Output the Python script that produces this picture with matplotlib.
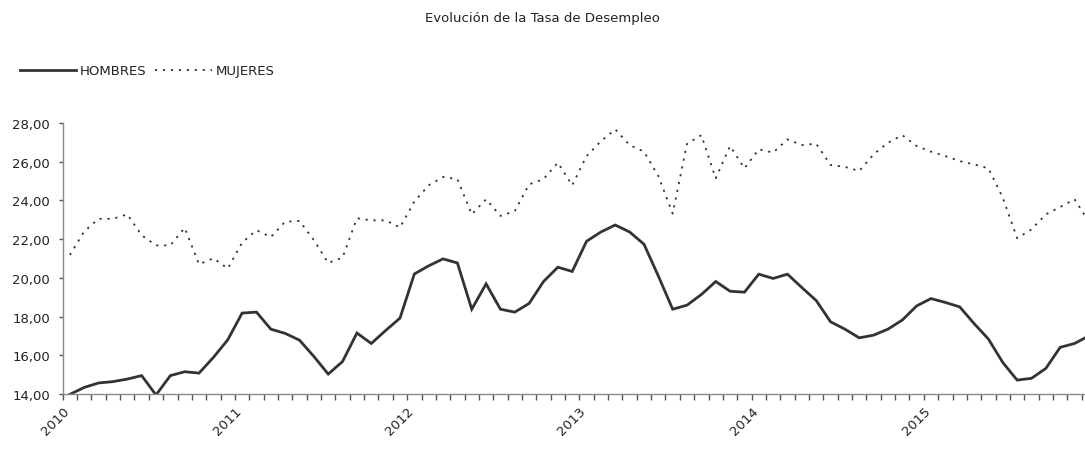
import matplotlib
matplotlib.use('Agg')
import matplotlib.pyplot as plt
from matplotlib.ticker import FuncFormatter
import numpy as np

plt.rcParams['font.family'] = ['DejaVu Sans']

# Datos mensuales 2010-2015 (%)
years = ['2010', '2011', '2012', '2013', '2014', '2015']

hombres = [13.98, 14.34, 14.57, 14.64, 14.77, 14.95, 13.95, 14.95, 15.15, 15.08, 15.89, 16.80,
           18.18, 18.23, 17.35, 17.13, 16.78, 15.94, 15.03, 15.68, 17.15, 16.61, 17.28, 17.92,
           20.20, 20.62, 20.98, 20.77, 18.38, 19.69, 18.38, 18.23, 18.68, 19.81, 20.55, 20.33,
           21.89, 22.37, 22.73, 22.37, 21.74, 20.10, 18.38, 18.59, 19.14, 19.81, 19.31, 19.26,
           20.19, 19.97, 20.19, 19.50, 18.83, 17.73, 17.35, 16.90, 17.04, 17.35, 17.82, 18.55,
           18.93, 18.73, 18.50, 17.64, 16.84, 15.63, 14.72, 14.81, 15.32, 16.41, 16.61, 17.00]

mujeres = [21.18, 22.40, 23.05, 23.05, 23.28, 22.20, 21.68, 21.68, 22.58, 20.70, 21.01, 20.48,
           21.82, 22.46, 22.11, 22.90, 22.94, 21.95, 20.77, 21.05, 23.08, 22.97, 22.97, 22.60,
           23.94, 24.78, 25.21, 25.10, 23.28, 24.06, 23.20, 23.45, 24.83, 25.10, 25.95, 24.78,
           26.29, 27.06, 27.67, 26.86, 26.52, 25.26, 23.32, 26.93, 27.37, 25.14, 26.81, 25.66,
           26.64, 26.47, 27.15, 26.86, 26.93, 25.83, 25.73, 25.52, 26.38, 26.98, 27.37, 26.81,
           26.52, 26.29, 26.03, 25.86, 25.66, 24.14, 22.05, 22.50, 23.28, 23.66, 24.06, 22.90]

fig = plt.figure(figsize=(10.85, 4.52), dpi=100)
ax = fig.add_axes([0.0578, 0.1261, 0.9422, 0.5996])

# puntos centrados entre marcas (eje de categorias)
x = np.arange(len(hombres)) + 0.5

ax.plot(x, hombres, color='#333333', linewidth=2.0, label='HOMBRES',
        solid_joinstyle='miter')
ax.plot(x, mujeres, color='#333333', linewidth=1.3, linestyle=(0, (1.2, 3.2)),
        label='MUJERES')

ax.set_xlim(0, 71.23)
ax.set_ylim(14, 28)
ax.set_yticks(range(14, 29, 2))
ax.yaxis.set_major_formatter(FuncFormatter(lambda v, p: f'{v:.2f}'.replace('.', ',')))

# marcas mensuales, etiqueta solo en enero
ticks = np.arange(0, 72)
labels = [years[t // 12] if t % 12 == 0 else '' for t in ticks]
ax.set_xticks(ticks)
ax.set_xticklabels(labels, rotation=45, ha='right', va='top', rotation_mode='anchor')

ax.tick_params(axis='x', direction='out', length=4, width=1, color='#555555',
               labelsize=9.5, pad=3, labelcolor='#222222')
ax.tick_params(axis='y', direction='out', length=3, width=1, color='#555555',
               labelsize=9.5, pad=6, labelcolor='#222222')

for s in ['top', 'right']:
    ax.spines[s].set_visible(False)
ax.spines['left'].set_color('#8a8a8a')
ax.spines['bottom'].set_color('#8a8a8a')
ax.spines['left'].set_linewidth(1.0)
ax.spines['bottom'].set_linewidth(1.0)

fig.text(0.5, 0.958, 'Evolución de la Tasa de Desempleo', ha='center', va='center',
         fontsize=9.5, color='#222222')

ax.legend(loc='center left', bbox_to_anchor=(0.018, 0.841), bbox_transform=fig.transFigure,
          ncol=2, frameon=False, fontsize=9.5, handlelength=4.3, handletextpad=0.3,
          columnspacing=0.6, borderaxespad=0, borderpad=0, labelcolor='#222222')

fig.savefig('out.png', dpi=100, facecolor='white')
plt.close()
